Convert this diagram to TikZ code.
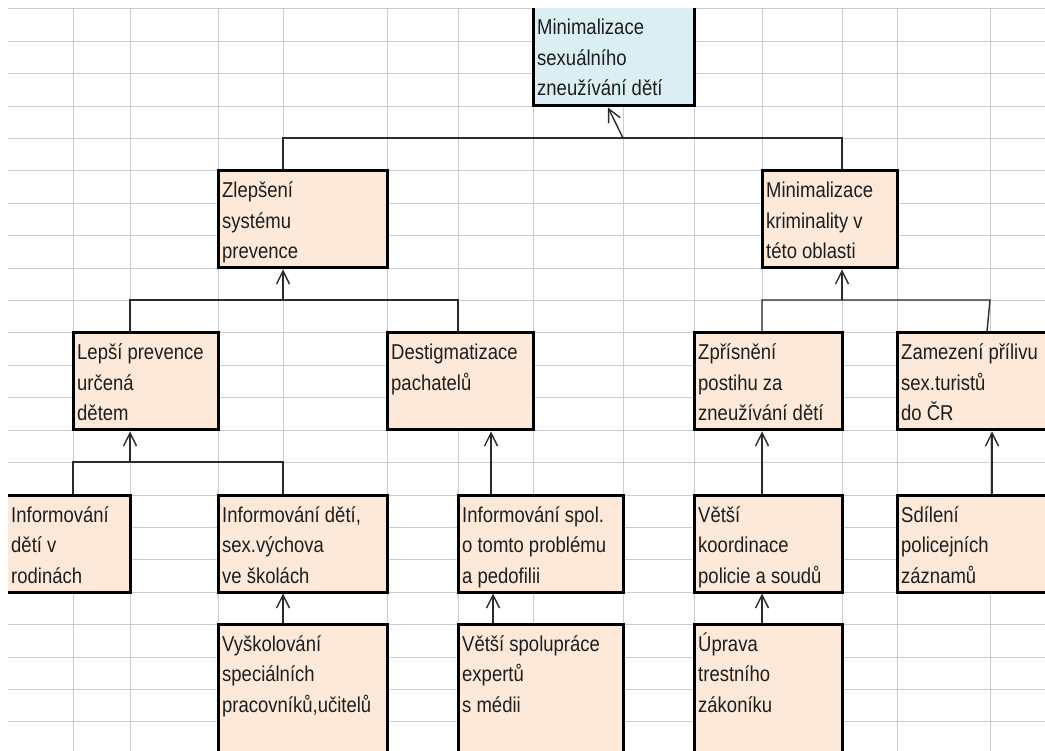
\documentclass[tikz,border=0pt]{standalone}
\usepackage{fontspec}
\setmainfont{Liberation Sans}[FakeStretch=0.86]
\usetikzlibrary{arrows.meta}
\definecolor{peach}{HTML}{FDE9D9}
\definecolor{lblue}{HTML}{DAEEF3}
\definecolor{gridc}{HTML}{C9CDD3}
\definecolor{conn}{HTML}{2B2B2B}
\definecolor{txtc}{HTML}{1E1E1E}
\begin{document}
\begin{tikzpicture}[x=1pt,y=-1pt,
  bx/.style={draw=black, line width=3pt, fill=peach, inner sep=0pt},
  txt/.style={anchor=base west, inner sep=0pt, text=txtc, font=\fontsize{21.5}{30.5}\selectfont},
  gridl/.style={draw=gridc, line width=1pt},
  ln/.style={draw=conn, line width=1.4pt},
  arr/.style={ln, -{Straight Barb[length=13pt,width=13pt,line width=1.4pt]}}
]
\useasboundingbox[fill=white] (0,0) rectangle (1045,751);
\begin{scope}
\clip (8,9) rectangle (1045,751);
% spreadsheet grid
\foreach \x in {73,130,218,283,387,458,533,623,694,762,842,897,990}
  \draw[gridl] (\x,9) -- (\x,751);
\foreach \k in {0,...,23}
  \draw[gridl] (8,{9+32.4*\k}) -- (1045,{9+32.4*\k});

% boxes
\node[bx, fill=lblue, minimum width=161pt, minimum height=116pt] (top) at (613.5,48) {};
\node[bx, minimum width=169pt, minimum height=97pt] (zlep) at (302.5,219.5) {};
\node[bx, minimum width=135pt, minimum height=97pt] (minkrim) at (829.5,219.5) {};
\node[bx, minimum width=145pt, minimum height=97pt] (lep) at (145.5,381.5) {};
\node[bx, minimum width=146pt, minimum height=97pt] (destig) at (460,381.5) {};
\node[bx, minimum width=148pt, minimum height=97pt] (zpr) at (768,381.5) {};
\node[bx, minimum width=163pt, minimum height=97pt] (zam) at (978.5,381.5) {};
\node[bx, minimum width=140pt, minimum height=97pt] (rod) at (60,543.5) {};
\node[bx, minimum width=169pt, minimum height=97pt] (ivs) at (302.5,543.5) {};
\node[bx, minimum width=165pt, minimum height=97pt] (infspol) at (540.5,543.5) {};
\node[bx, minimum width=148pt, minimum height=97pt] (koord) at (768,543.5) {};
\node[bx, minimum width=163pt, minimum height=97pt] (sdil) at (978.5,543.5) {};
\node[bx, minimum width=169pt, minimum height=146pt] (vys) at (302.5,697) {};
\node[bx, minimum width=165pt, minimum height=146pt] (spol) at (540.5,697) {};
\node[bx, minimum width=148pt, minimum height=146pt] (upr) at (768,697) {};

% texts
\node[txt] (ttop) at (537,35) {\vtop{\hbox{Minimalizace}\hbox{sexuálního}\hbox{zneužívání dětí}}};
\node[txt] (tzlep) at (222,198) {\vtop{\hbox{Zlepšení}\hbox{systému}\hbox{prevence}}};
\node[txt] (tminkrim) at (766,198) {\vtop{\hbox{Minimalizace}\hbox{kriminality v}\hbox{této oblasti}}};
\node[txt] (tlep) at (77,360) {\vtop{\hbox{Lepší prevence}\hbox{určená}\hbox{dětem}}};
\node[txt] (tdestig) at (391,360) {\vtop{\hbox{Destigmatizace}\hbox{pachatelů}}};
\node[txt] (tzpr) at (698,360) {\vtop{\hbox{Zpřísnění}\hbox{postihu za}\hbox{zneužívání dětí}}};
\node[txt] (tzam) at (901,360) {\vtop{\hbox{Zamezení přílivu}\hbox{sex.turistů}\hbox{do ČR}}};
\node[txt] (trod) at (11,522) {\vtop{\hbox{Informování}\hbox{dětí v}\hbox{rodinách}}};
\node[txt] (tivs) at (222,522) {\vtop{\hbox{Informování dětí,}\hbox{sex.výchova}\hbox{ve školách}}};
\node[txt] (tinfspol) at (462,522) {\vtop{\hbox{Informování spol.}\hbox{o tomto problému}\hbox{a pedofilii}}};
\node[txt] (tkoord) at (698,522) {\vtop{\hbox{Větší}\hbox{koordinace}\hbox{policie a soudů}}};
\node[txt] (tsdil) at (901,522) {\vtop{\hbox{Sdílení}\hbox{policejních}\hbox{záznamů}}};
\node[txt] (tvys) at (222,651) {\vtop{\hbox{Vyškolování}\hbox{speciálních}\hbox{pracovníků,učitelů}}};
\node[txt] (tspol) at (462,651) {\vtop{\hbox{Větší spolupráce}\hbox{expertů}\hbox{s médii}}};
\node[txt] (tupr) at (698,651) {\vtop{\hbox{Úprava}\hbox{trestního}\hbox{zákoníku}}};

% connector junctions
\coordinate (c1) at (283,138);
\coordinate (c2) at (842,138);
\coordinate (a0) at (623,138);
\coordinate (a0t) at (608,0);
\coordinate (c3) at (130,300);
\coordinate (c4) at (458,300);
\coordinate (c5) at (283,300);
\coordinate (c6) at (762,300);
\coordinate (c7) at (990,300);
\coordinate (c7b) at (987,0);
\coordinate (c8) at (842,300);
\coordinate (c9) at (73,462);
\coordinate (c10) at (283,462);
\coordinate (c11) at (130,462);
\coordinate (x491) at (491,0);
\coordinate (x493) at (493,0);
\coordinate (x762) at (762,0);
\coordinate (x992) at (992,0);
\coordinate (x283) at (283,0);

% level 1
\draw[ln] (zlep.north -| c1) -- (c1) -- (c2) -- (minkrim.north -| c2);
\draw[arr] (a0) -- (top.south -| a0t);
% level 2 left
\draw[ln] (lep.north -| c3) -- (c3) -- (c4) -- (destig.north -| c4);
\draw[arr] (c5) -- (zlep.south -| c5);
% level 2 right
\draw[ln] (zpr.north -| c6) -- (c6) -- (c7) -- (zam.north -| c7b);
\draw[arr] (c8) -- (minkrim.south -| c8);
% level 3 left
\draw[ln] (rod.north -| c9) -- (c9) -- (c10) -- (ivs.north -| c10);
\draw[arr] (c11) -- (lep.south -| c11);
% single links
\draw[arr] (infspol.north -| x491) -- (destig.south -| x491);
\draw[arr] (koord.north -| x762) -- (zpr.south -| x762);
\draw[arr] (sdil.north -| x992) -- (zam.south -| x992);
\draw[arr] (vys.north -| x283) -- (ivs.south -| x283);
\draw[arr] (spol.north -| x493) -- (infspol.south -| x493);
\draw[arr] (upr.north -| x762) -- (koord.south -| x762);
\end{scope}
\end{tikzpicture}
\end{document}
